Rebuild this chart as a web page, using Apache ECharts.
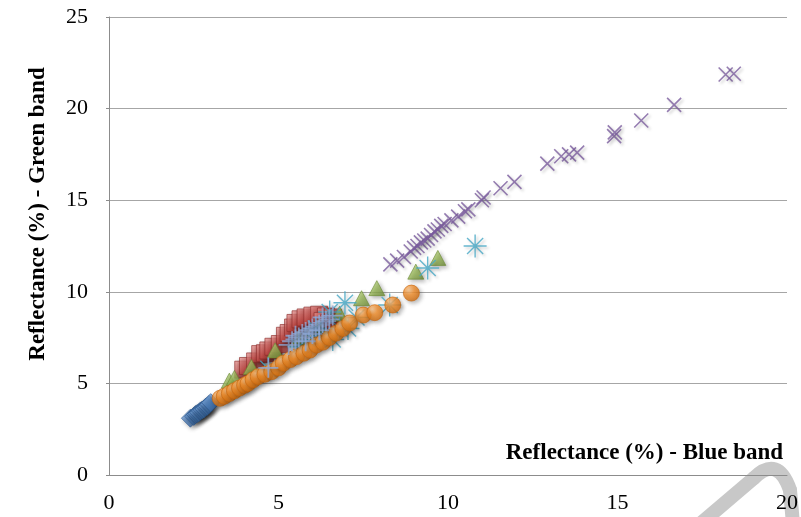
<!DOCTYPE html>
<html>
<head>
<meta charset="utf-8">
<script src="https://cdn.jsdelivr.net/npm/echarts@6/dist/echarts.min.js"></script>
<style>
  html, body { margin: 0; padding: 0; background: #ffffff; }
  #chart { width: 801px; height: 517px; }
</style>
</head>
<body>
<div id="chart"></div>
<script>
// Reflectance pairs [blue band %, green band %] for each group of samples
const groupDiamond = [[2.4,3.1],[2.5,3.2],[2.55,3.3],[2.6,3.35],[2.65,3.4],[2.7,3.5],[2.75,3.55],[2.8,3.6],[2.85,3.7],[2.9,3.75],[2.95,3.85],[3.0,3.95]];
const groupSquare = [[3.96,5.75],[4.1,5.95],[4.31,6.2],[4.46,6.6],[4.6,6.65],[4.7,6.8],[4.85,7.0],[5.04,7.15],[5.19,7.6],[5.3,7.75],[5.43,8.05],[5.5,8.3],[5.65,8.5],[5.8,8.6],[6.0,8.7],[6.2,8.75],[6.4,8.65],[6.6,8.6],[6.3,8.4],[6.5,8.3]];
const groupTriangle = [[3.55,5.15],[3.7,5.3],[4.2,5.9],[4.9,6.8],[5.6,7.5],[6.2,8.1],[6.8,8.8],[7.45,9.65],[7.9,10.2],[9.05,11.1],[9.7,11.85]];
const groupCross = [[8.3,11.5],[8.5,11.7],[8.7,11.9],[8.9,12.2],[9.0,12.4],[9.1,12.5],[9.2,12.7],[9.3,12.8],[9.4,12.9],[9.5,13.1],[9.6,13.3],[9.7,13.4],[9.8,13.6],[9.9,13.7],[10.1,13.9],[10.3,14.1],[10.5,14.4],[10.6,14.5],[11.0,15.0],[11.05,15.15],[11.55,15.65],[11.96,16.0],[12.93,17.0],[13.34,17.4],[13.57,17.5],[13.81,17.6],[14.9,18.5],[14.92,18.7],[15.7,19.35],[16.67,20.2],[18.19,21.86],[18.43,21.9]];
const groupStar = [[4.7,5.8],[5.6,7.0],[6.0,7.4],[6.3,7.6],[6.6,7.4],[6.8,8.0],[7.05,8.0],[6.96,9.4],[6.51,8.9],[7.3,8.6],[8.28,9.28],[9.4,11.3],[10.8,12.5],[6.1,8.0]];
const groupCircle = [[3.28,4.19],[3.4,4.3],[3.55,4.45],[3.7,4.6],[3.85,4.75],[4.0,4.9],[4.1,5.0],[4.25,5.2],[4.4,5.37],[4.6,5.5],[4.8,5.64],[5.0,5.85],[5.14,6.1],[5.35,6.3],[5.53,6.46],[5.75,6.65],[5.93,6.82],[6.12,7.1],[6.31,7.25],[6.5,7.5],[6.7,7.75],[6.9,8.0],[7.1,8.3],[7.5,8.73],[7.84,8.86],[8.37,9.28],[8.92,9.93]];
const groupPlus = [[4.7,5.85],[5.3,7.1],[5.4,7.3],[5.5,7.4],[5.5,7.6],[5.6,7.5],[5.7,7.7],[5.8,7.3],[5.8,7.8],[5.9,7.9],[6.0,7.7],[6.0,8.0],[6.1,8.1],[6.2,7.9],[6.2,8.2],[6.3,8.3],[6.3,8.6],[6.4,8.4],[6.5,8.5],[6.6,8.7]];

const xTicks = { min: 0, max: 20, interval: 5 };
const yTicks = { min: 0, max: 25, interval: 5 };

const xTitle = 'Reflectance (%) - Blue band';
const yTitle = 'Reflectance (%) - Green band';

const serif = '"Liberation Serif", "Times New Roman", serif';

const shadow = { shadowColor: 'rgba(0,0,0,0.35)', shadowBlur: 4, shadowOffsetX: 2, shadowOffsetY: 2 };

function lin(a, b, c) {
  return { type: 'linear', x: 0, y: 0, x2: 1, y2: 1,
    colorStops: [{ offset: 0, color: a }, { offset: 0.5, color: b }, { offset: 1, color: c }] };
}
function rad(a, b, c) {
  return { type: 'radial', x: 0.35, y: 0.3, r: 0.8,
    colorStops: [{ offset: 0, color: a }, { offset: 0.4, color: b }, { offset: 1, color: c }] };
}

const filled = (name, data, symbol, size, fill, edge) => ({
  name, type: 'scatter', data, symbol, symbolSize: size,
  itemStyle: Object.assign({ color: fill, borderColor: edge, borderWidth: 0.8 }, shadow),
  emphasis: { disabled: true }
});
const stroked = (name, data, path, size, color, width) => ({
  name, type: 'scatter', data, symbol: path, symbolSize: size,
  itemStyle: Object.assign({ color: 'rgba(0,0,0,0)', borderColor: color, borderWidth: width }, shadow, { shadowBlur: 3, shadowColor: 'rgba(0,0,0,0.25)' }),
  emphasis: { disabled: true }
});

// decorative grey hook in the lower right corner
const hookStyle = { stroke: '#c8c8c8', lineWidth: 14, lineCap: 'round', fill: null };

const chart = echarts.init(document.getElementById('chart'), null, { renderer: 'canvas' });
chart.setOption({
  animation: false,
  backgroundColor: '#ffffff',
  grid: { left: 109, right: 13, top: 17, bottom: 42 },
  xAxis: {
    type: 'value', min: xTicks.min, max: xTicks.max, interval: xTicks.interval,
    axisLine: { show: true, lineStyle: { color: '#8c8c8c', width: 1 } },
    axisTick: { show: false },
    splitLine: { show: false },
    axisLabel: { color: '#000', fontFamily: serif, fontSize: 22, margin: 17 }
  },
  yAxis: {
    type: 'value', min: yTicks.min, max: yTicks.max, interval: yTicks.interval,
    axisLine: { show: true, lineStyle: { color: '#8c8c8c', width: 1 } },
    axisTick: { show: true, length: 3, lineStyle: { color: '#8c8c8c' } },
    splitLine: { show: true, lineStyle: { color: '#a6a6a6', width: 1.2 } },
    axisLabel: { color: '#000', fontFamily: serif, fontSize: 22, margin: 21 }
  },
  graphic: [
    { type: 'line', z: -10, silent: true, shape: { x1: 700, y1: 524, x2: 754, y2: 478 }, style: hookStyle },
    { type: 'bezierCurve', z: -10, silent: true, shape: { x1: 754, y1: 478, cpx1: 778, cpy1: 455, x2: 790, y2: 490 }, style: hookStyle },
    { type: 'line', z: -10, silent: true, shape: { x1: 790, y1: 490, x2: 793, y2: 524 }, style: hookStyle },
    {
      type: 'text', right: 18, top: 442, z: 10,
      style: { text: xTitle, font: 'bold 23px ' + serif, fill: '#000' }
    },
    {
      type: 'text', x: 38, y: 214, rotation: Math.PI / 2, z: 10,
      style: { text: yTitle, font: 'bold 23px ' + serif, fill: '#000', align: 'center', verticalAlign: 'middle' }
    }
  ],
  series: [
    filled('Group 1', groupDiamond, 'diamond', 18, lin('#8DB3E2', '#4F81BD', '#2A5A94'), '#2F5C93'),
    filled('Group 2', groupSquare, 'rect', 17, lin('#EE9C99', '#C9504C', '#8C2B29'), '#8C2B29'),
    filled('Group 3', groupTriangle, 'triangle', [16, 15], lin('#C2DA8E', '#9BBB59', '#6B8A33'), '#6B8A33'),
    stroked('Group 4', groupCross, 'path://M0,0L10,10M10,0L0,10', 14, '#7A5C9E', 1.6),
    stroked('Group 5', groupStar, 'path://M10,0L10,20M0,10L20,10M3,3L17,17M17,3L3,17', 23, '#43A6C4', 1.4),
    filled('Group 6', groupCircle, 'circle', 16, rad('#FFC990', '#F7922E', '#CC680A'), '#C8660C'),
    stroked('Group 7', groupPlus, 'path://M10,0L10,20M0,10L20,10', 20, '#8FA8D6', 1.8)
  ]
});
</script>
</body>
</html>
